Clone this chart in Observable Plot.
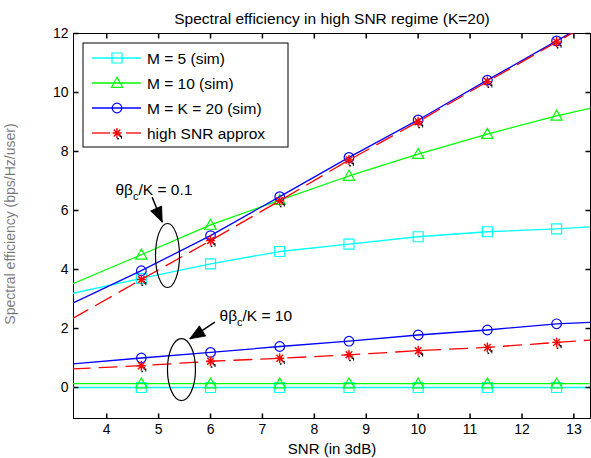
<!DOCTYPE html>
<html><head><meta charset="utf-8">
<script src="https://cdn.jsdelivr.net/npm/d3@7"></script>
<script src="https://cdn.jsdelivr.net/npm/@observablehq/plot@0.6"></script>
<style>body{margin:0;background:#fff} svg{display:block}</style>
</head><body><div id="chart"></div>
<script>
// ---- data ----
const snr = [3.333, 4.667, 6, 7.333, 8.667, 10, 11.333, 12.667, 13.333];
const seriesNames = ["M = 5 (sim)", "M = 10 (sim)", "M = K = 20 (sim)", "high SNR approx"];
const seriesColors = ["#00ffff", "#00ff00", "#0000ff", "#ff0000"];
// theta*beta_c/K = 0.1
const m5High = [3.19, 3.70, 4.19, 4.61, 4.86, 5.11, 5.28, 5.38, 5.45];
const m10High = [3.51, 4.50, 5.51, 6.35, 7.17, 7.91, 8.59, 9.21, 9.47];
const m20High = [2.85, 3.96, 5.15, 6.47, 7.80, 9.07, 10.42, 11.75, 12.41];
const approxHigh = [2.33, 3.66, 4.98, 6.33, 7.71, 9.01, 10.37, 11.71, 12.38];
// theta*beta_c/K = 10
const m5Low = [0.0, 0.0, 0.0, 0.0, 0.0, 0.0, 0.0, 0.0, 0.0];
const m10Low = [0.13, 0.13, 0.13, 0.13, 0.13, 0.13, 0.13, 0.13, 0.13];
const m20Low = [0.80, 1.00, 1.19, 1.39, 1.57, 1.78, 1.95, 2.16, 2.21];
const approxLow = [0.63, 0.74, 0.89, 0.99, 1.11, 1.25, 1.36, 1.53, 1.61];
const xTickVals = [4, 5, 6, 7, 8, 9, 10, 11, 12, 13];
const yTickVals = [0, 2, 4, 6, 8, 10, 12];
const xDomain = [3.36, 13.32];
const yDomain = [-1.05, 12];
const annotTexts = ["θβc/K = 0.1", "θβc/K = 10"];
const annotPos = [{x: 4.169, y: 6.678}, {x: 6.173, y: 2.407}];
const ellipses = [{x: 5.171, y: 4.475, rx: 12, ry: 32}, {x: 5.440, y: 0.610, rx: 14, ry: 31}];
const arrows = [
  {x1: 4.876, y1: 6.451, x2: 5.069, y2: 5.603, angle: 156.2},
  {x1: 6.082, y1: 2.214, x2: 5.600, y2: 1.651, angle: -121.6}
];

const seriesData = [[m5High, m5Low], [m10High, m10Low], [m20High, m20Low], [approxHigh, approxLow]];

// ---- symbols ----
const sqSym = {draw(c){ c.moveTo(-5,-5); c.lineTo(5,-5); c.lineTo(5,5); c.lineTo(-5,5); c.closePath(); }};
const triSym = {draw(c){ c.moveTo(0,-5.7); c.lineTo(5.6,4.3); c.lineTo(-5.6,4.3); c.closePath(); }};
const circSym = {draw(c){ c.moveTo(4.8,0); c.arc(0,0,4.8,0,2*Math.PI); }};
const starSym = {draw(c){
  c.moveTo(-4.5,0); c.lineTo(4.5,0);
  c.moveTo(0,-5); c.lineTo(0,5);
  c.moveTo(-3.3,-3.5); c.lineTo(3.3,3.5);
  c.moveTo(-3.3,3.5); c.lineTo(3.3,-3.5);
}};
const shadowSym = {draw(c){
  c.moveTo(1,5); c.lineTo(1,6.5);
  c.moveTo(3,3.5); c.lineTo(5,3.5);
  c.moveTo(4,5); c.lineTo(5,5);
  c.moveTo(2,2); c.lineTo(3.5,2);
}};
const markerSyms = [sqSym, triSym, circSym, starSym];
const tickUp = {draw(c){ c.moveTo(0,0); c.lineTo(0,-5); }};
const tickDown = {draw(c){ c.moveTo(0,0); c.lineTo(0,5); }};
const tickRight = {draw(c){ c.moveTo(0,0); c.lineTo(5,0); }};
const tickLeft = {draw(c){ c.moveTo(0,0); c.lineTo(-5,0); }};
function ellipseSym(a, b){ const k = 0.5523; return {draw(c){
  c.moveTo(a,0); c.bezierCurveTo(a,k*b,k*a,b,0,b); c.bezierCurveTo(-k*a,b,-a,k*b,-a,0);
  c.bezierCurveTo(-a,-k*b,-k*a,-b,0,-b); c.bezierCurveTo(k*a,-b,a,-k*b,a,0); c.closePath(); }}; }
function headSym(angleDeg, len = 15, hw = 6){
  const t = angleDeg*Math.PI/180, co = Math.cos(t), si = Math.sin(t);
  const r = (px, py) => [px*co - py*si, px*si + py*co];
  return {draw(c){ c.moveTo(...r(0,0)); c.lineTo(...r(-hw,len)); c.lineTo(...r(hw,len)); c.closePath(); }};
}

// ---- marks ----
const marks = [];
marks.push(Plot.frame({stroke: "black", strokeWidth: 1}));
seriesData.forEach((pair, si) => {
  pair.forEach((vals, ri) => {
    const rows = vals.map((v, i) => ({snr: snr[i], v, i}));
    const mk = rows.filter(d => d.i >= 1 && d.i <= 7);
    marks.push(Plot.line(rows, {x: "snr", y: "v", stroke: seriesColors[si], strokeWidth: 1.3,
      strokeDasharray: si === 3 ? "18,9" : null, clip: true}));
    if (si === 3) {
      marks.push(Plot.dot(mk, {x: "snr", y: "v", symbol: shadowSym, stroke: "black", strokeWidth: 1.6, r: 5}));
      marks.push(Plot.dot(mk, {x: "snr", y: "v", symbol: starSym, stroke: "#ff0000", strokeWidth: 1.4, r: 5}));
    } else {
      marks.push(Plot.dot(mk, {x: "snr", y: "v", symbol: markerSyms[si], stroke: seriesColors[si], fill: "none", strokeWidth: 1.2, r: 5}));
    }
  });
});
// ticks inward
marks.push(Plot.dot(xTickVals, {x: d => d, y: () => yDomain[0], symbol: tickUp, stroke: "black", r: 3}));
marks.push(Plot.dot(xTickVals, {x: d => d, y: () => yDomain[1], symbol: tickDown, stroke: "black", r: 3}));
marks.push(Plot.dot(yTickVals, {y: d => d, x: () => xDomain[0], symbol: tickRight, stroke: "black", r: 3}));
marks.push(Plot.dot(yTickVals, {y: d => d, x: () => xDomain[1], symbol: tickLeft, stroke: "black", r: 3}));
marks.push(Plot.axisX({ticks: xTickVals, tickSize: 0, tickPadding: 6, label: null, fontSize: 14}));
marks.push(Plot.axisY({ticks: yTickVals, tickSize: 0, tickPadding: 5, label: null, fontSize: 14}));
// annotations
ellipses.forEach(e => marks.push(Plot.dot([e], {x: "x", y: "y", symbol: ellipseSym(e.rx, e.ry), stroke: "black", strokeWidth: 1.2, fill: "none", r: 5})));
arrows.forEach(a => {
  marks.push(Plot.link([a], {x1: "x1", y1: "y1", x2: "x2", y2: "y2", stroke: "black", strokeWidth: 1.5}));
  marks.push(Plot.dot([a], {x: "x2", y: "y2", symbol: headSym(a.angle), fill: "black", stroke: "black", strokeWidth: 0.8, r: 5}));
});
annotTexts.forEach((t, i) => marks.push(Plot.text([t], {x: () => annotPos[i].x, y: () => annotPos[i].y, text: d => d,
  textAnchor: "start", fontSize: 15.5, fill: "black", className: "annot"})));
// title & x label
marks.push(Plot.text(["Spectral efficiency in high SNR regime (K=20)"], {frameAnchor: "top", lineAnchor: "bottom", dy: -10, text: d => d, fontSize: 15.5, fill: "black"}));
marks.push(Plot.text(["SNR (in 3dB)"], {frameAnchor: "bottom", lineAnchor: "bottom", dy: 35, text: d => d, fontSize: 15, fill: "black"}));

const plot = Plot.plot({
  width: 591, height: 458,
  marginTop: 33, marginBottom: 40, marginLeft: 73, marginRight: 1,
  x: {domain: xDomain, label: null},
  y: {domain: yDomain, label: null},
  style: {fontFamily: "'Liberation Sans', Arial, Helvetica, sans-serif", fontSize: "14px", color: "black", background: "white"},
  marks
});

const svg = d3.select(plot);
// subscript c in annotations
svg.selectAll("g.annot text").each(function(){
  const t = this.textContent;
  const rest = t.slice(3);
  const sel = d3.select(this);
  sel.text(null);
  sel.append("tspan").text("θβ");
  sel.append("tspan").attr("dy", 5).attr("font-size", 11).text("c");
  sel.append("tspan").attr("dy", -5).text(rest);
});
// y label
svg.append("text")
  .attr("transform", "translate(15,224) rotate(-90)")
  .attr("text-anchor", "middle")
  .attr("font-size", 14)
  .attr("fill", "black").attr("fill-opacity", 0.55)
  .text("Spectral efficiency (bps/Hz/user)");
// legend
const lg = svg.append("g").attr("class", "legend").attr("text-anchor", "start");
lg.append("rect").attr("x", 83).attr("y", 43).attr("width", 205).attr("height", 104)
  .attr("fill", "white").attr("stroke", "black").attr("stroke-width", 1);
const symPaths = [
  "M-5,-5L5,-5L5,5L-5,5Z",
  "M0,-5.7L5.6,4.3L-5.6,4.3Z",
  "M4.8,0A4.8,4.8,0,1,1,-4.8,0A4.8,4.8,0,1,1,4.8,0Z",
  "M-4.5,0L4.5,0M0,-5L0,5M-3.3,-3.5L3.3,3.5M-3.3,3.5L3.3,-3.5"
];
seriesNames.forEach((name, i) => {
  const y = 58 + i * 25;
  const g = lg.append("g");
  if (i === 3) {
    g.append("line").attr("x1", 92).attr("x2", 110).attr("y1", y).attr("y2", y).attr("stroke", seriesColors[i]).attr("stroke-width", 1.3);
    g.append("line").attr("x1", 126).attr("x2", 141).attr("y1", y).attr("y2", y).attr("stroke", seriesColors[i]).attr("stroke-width", 1.3);
    g.append("path").attr("transform", `translate(117,${y})`).attr("d", "M1,5L1,6.5M3,3.5L5,3.5M4,5L5,5M2,2L3.5,2").attr("stroke", "black").attr("stroke-width", 1.6);
    g.append("path").attr("transform", `translate(117,${y})`).attr("d", symPaths[i]).attr("stroke", seriesColors[i]).attr("stroke-width", 1.4).attr("fill", "none");
  } else {
    g.append("line").attr("x1", 92).attr("x2", 141).attr("y1", y).attr("y2", y).attr("stroke", seriesColors[i]).attr("stroke-width", 1.3);
    g.append("path").attr("transform", `translate(117,${y})`).attr("d", symPaths[i]).attr("stroke", seriesColors[i]).attr("stroke-width", 1.2).attr("fill", "none");
  }
  g.append("text").attr("x", 147).attr("y", y).attr("dy", "0.36em").attr("text-anchor", "start")
    .attr("font-size", 15.5).attr("fill", "black").text(name);
});

document.getElementById("chart").appendChild(plot);
</script>
</body></html>
